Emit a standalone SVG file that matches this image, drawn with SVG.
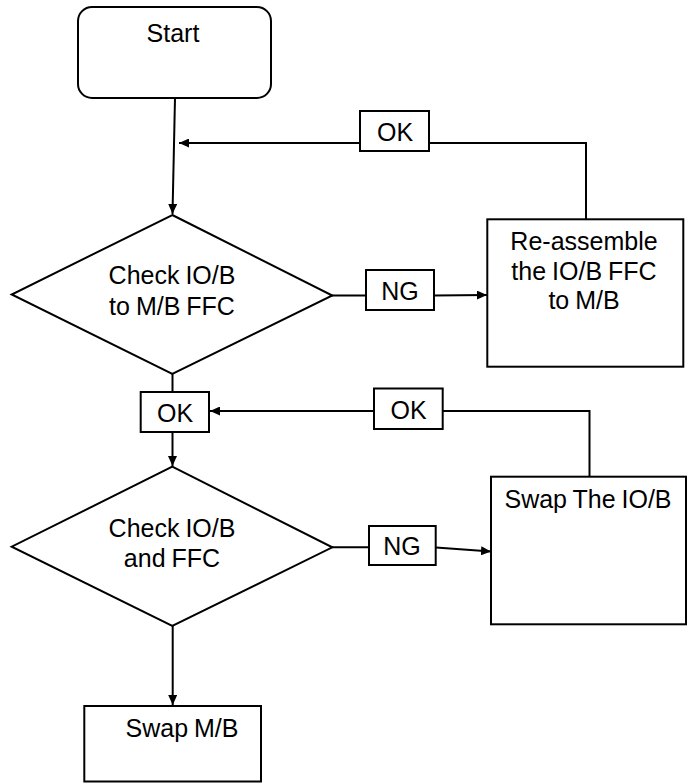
<svg xmlns="http://www.w3.org/2000/svg" width="687" height="783" viewBox="0 0 687 783">
<style>
.s{fill:#fff;stroke:#000;stroke-width:2}
.l{fill:none;stroke:#000;stroke-width:2}
text{font-family:"Liberation Sans",Arial,sans-serif;font-size:25px;fill:#000;text-anchor:middle;word-spacing:-1px}
</style>
<defs>
<marker id="a" markerWidth="10" markerHeight="9" refX="10" refY="4.5" orient="auto" markerUnits="userSpaceOnUse">
<path d="M0,0 L10,4.5 L0,9 Z" fill="#000"/>
</marker>
</defs>
<rect width="687" height="783" fill="#fff"/>
<g id="connectors">
<path class="l" d="M175,98 L172.5,214" marker-end="url(#a)"/>
<path class="l" d="M586,219 L586,143 L429,143"/>
<path class="l" d="M360,143 L179,143" marker-end="url(#a)"/>
<path class="l" d="M332,295.5 L366,295.5"/>
<path class="l" d="M434,295.5 L487,295" marker-end="url(#a)"/>
<path class="l" d="M172.5,374 L172.5,392"/>
<path class="l" d="M589.5,477 L589.5,411 L443,411"/>
<path class="l" d="M374,411 L210,411" marker-end="url(#a)"/>
<path class="l" d="M172.5,432 L172.5,466" marker-end="url(#a)"/>
<path class="l" d="M332,547.3 L369,547.3"/>
<path class="l" d="M436,547.5 L491,551.5" marker-end="url(#a)"/>
<path class="l" d="M172.7,626 L172.7,705" marker-end="url(#a)"/>
</g>
<g id="start">
<rect class="s" x="78" y="7" width="193" height="91" rx="14"/>
<text x="173" y="42">Start</text>
</g>
<g id="ok1">
<rect class="s" x="360" y="111" width="69" height="40"/>
<text x="395" y="141">OK</text>
</g>
<g id="check1">
<polygon class="s" points="172.3,215 332.3,295.5 172.3,374 11.7,294.5"/>
<text x="172" y="284">Check IO/B</text>
<text x="172" y="315">to M/B FFC</text>
</g>
<g id="ng1">
<rect class="s" x="366" y="270" width="68" height="40"/>
<text x="400" y="300">NG</text>
</g>
<g id="reassemble">
<rect class="s" x="487.3" y="219.3" width="196" height="147.4"/>
<text x="584" y="250">Re-assemble</text>
<text x="584" y="280">the IO/B FFC</text>
<text x="584" y="309">to M/B</text>
</g>
<g id="ok2">
<rect class="s" x="140.7" y="392" width="68.3" height="40"/>
<text x="175" y="422">OK</text>
</g>
<g id="ok3">
<rect class="s" x="374" y="388.5" width="68.7" height="40.5"/>
<text x="408.5" y="419">OK</text>
</g>
<g id="check2">
<polygon class="s" points="172.3,466.7 332.3,547.3 172.3,626 11.7,546.7"/>
<text x="172" y="537">Check IO/B</text>
<text x="172" y="567">and FFC</text>
</g>
<g id="ng2">
<rect class="s" x="369" y="526" width="66.7" height="39"/>
<text x="402" y="555">NG</text>
</g>
<g id="swapio">
<rect class="s" x="491" y="476.7" width="195" height="147.6"/>
<text x="588" y="508">Swap The IO/B</text>
</g>
<g id="swapmb">
<rect class="s" x="84.3" y="706" width="176.7" height="75.5"/>
<text x="182" y="737">Swap M/B</text>
</g>
</svg>
